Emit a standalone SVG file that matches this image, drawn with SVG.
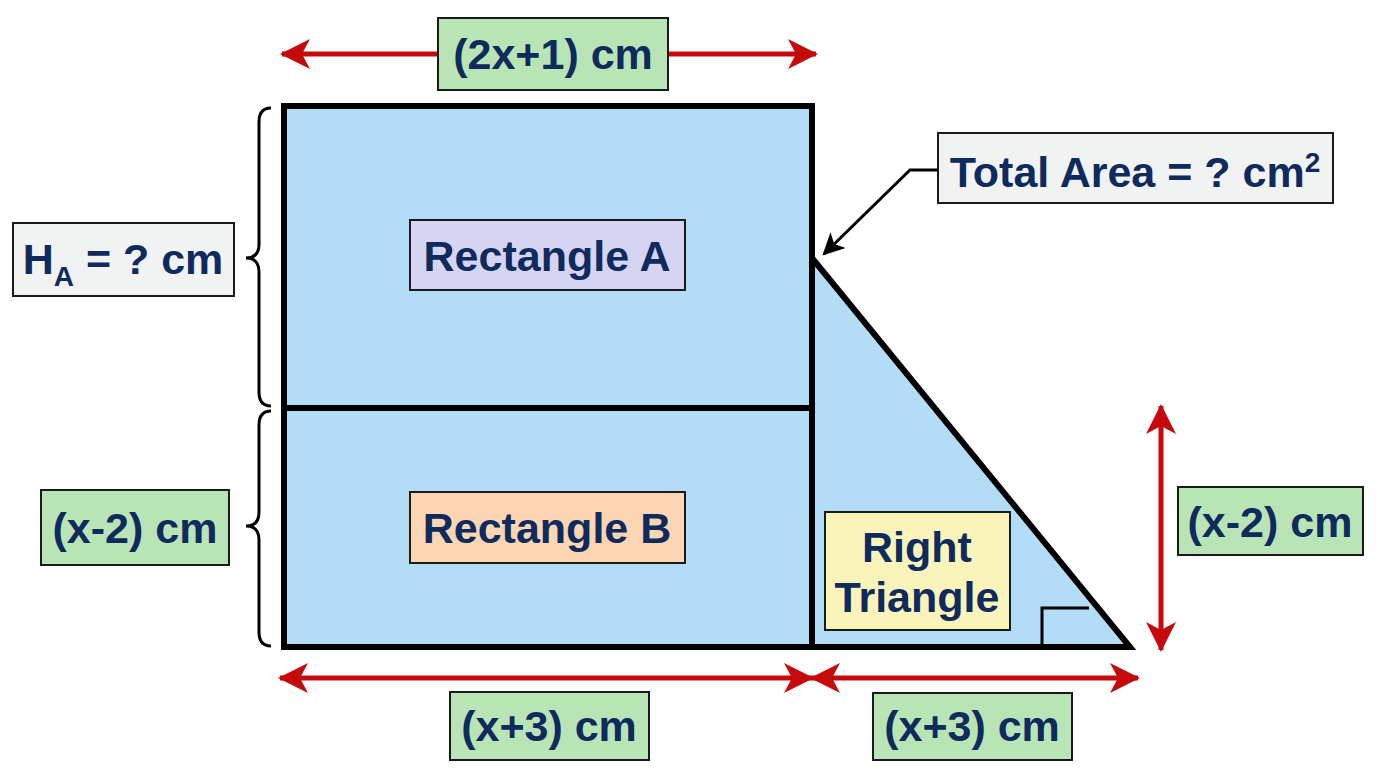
<svg xmlns="http://www.w3.org/2000/svg" width="1376" height="768" viewBox="0 0 1376 768">
<defs>
<marker id="red" viewBox="0 0 30 30" refX="28" refY="15" markerWidth="30" markerHeight="30" markerUnits="userSpaceOnUse" orient="auto-start-reverse">
<path d="M0,0 L30,15 L0,30 L8,15 Z" fill="#c40a0a"/>
</marker>
<marker id="blk" viewBox="0 0 20 20" refX="18" refY="10" markerWidth="22" markerHeight="22" markerUnits="userSpaceOnUse" orient="auto">
<path d="M0,0 L20,10 L0,20 L5,10 Z" fill="#000"/>
</marker>
</defs>
<style>
.lbl{font-family:"Liberation Sans",Arial,sans-serif;font-weight:bold;fill:#0f2a5c;text-anchor:middle;font-size:43px}
.box{stroke:#1a1a1a;stroke-width:2}
.green{fill:#b9e4b6}
.gray{fill:#f1f2f2}
.dim{stroke:#c40a0a;stroke-width:5;fill:none}
.shape{fill:#b3dcf7;stroke:#000;stroke-width:6;stroke-linejoin:miter}
.brace{fill:none;stroke:#000;stroke-width:3}
</style>
<rect width="1376" height="768" fill="#ffffff"/>

<g id="shapes">
<rect id="rectA" class="shape" x="284" y="106" width="528" height="302"/>
<rect id="rectB" class="shape" x="284" y="408" width="528" height="239"/>
<polygon id="triangle" class="shape" points="812,258 1130,647 812,647"/>
<path id="right-angle" d="M1042,647 L1042,608 L1089,608" fill="none" stroke="#000" stroke-width="3"/>
</g>

<g id="connectors">
<line class="dim" x1="282" y1="54" x2="816" y2="54" marker-start="url(#red)" marker-end="url(#red)"/>
<line class="dim" x1="280" y1="678" x2="812" y2="678" marker-start="url(#red)" marker-end="url(#red)"/>
<line class="dim" x1="812" y1="678" x2="1138" y2="678" marker-start="url(#red)" marker-end="url(#red)"/>
<line class="dim" x1="1161" y1="406" x2="1161" y2="650" marker-start="url(#red)" marker-end="url(#red)"/>
<path d="M938,170 L910,170 L824,254" fill="none" stroke="#000" stroke-width="3" marker-end="url(#blk)"/>
<path class="brace" d="M271,108 Q259,108 259,122 L259,244 Q259,258 246,258 Q259,258 259,272 L259,392 Q259,406 271,406"/>
<path class="brace" d="M271,411 Q259,411 259,425 L259,512 Q259,526 246,526 Q259,526 259,540 L259,632 Q259,646 271,646"/>
</g>

<g id="label-top">
<rect class="box green" x="438" y="18" width="230" height="72"/>
<text class="lbl" x="553" y="69">(2x+1) cm</text>
</g>

<g id="label-ha">
<rect class="box gray" x="13" y="223" width="221" height="73"/>
<text class="lbl" x="123" y="274">H<tspan font-size="28" dy="12">A</tspan><tspan dy="-12"> = ? cm</tspan></text>
</g>

<g id="label-left-b">
<rect class="box green" x="41" y="490" width="188" height="75"/>
<text class="lbl" x="135" y="543">(x-2) cm</text>
</g>

<g id="label-rect-a">
<rect class="box" fill="#d6d4f3" x="410" y="220" width="275" height="70"/>
<text class="lbl" x="547" y="271">Rectangle A</text>
</g>

<g id="label-rect-b">
<rect class="box" fill="#fcd6b2" x="410" y="492" width="275" height="71"/>
<text class="lbl" x="547" y="543">Rectangle B</text>
</g>

<g id="label-total">
<rect class="box gray" x="938" y="133" width="395" height="70"/>
<text class="lbl" x="1135" y="187">Total Area = ? cm<tspan font-size="28" dy="-15">2</tspan></text>
</g>

<g id="label-triangle">
<rect class="box" fill="#fbf4ba" x="825" y="512" width="185" height="118"/>
<text class="lbl" x="917" y="562">Right</text>
<text class="lbl" x="917" y="612">Triangle</text>
</g>

<g id="label-right">
<rect class="box green" x="1178" y="487" width="185" height="68"/>
<text class="lbl" x="1270" y="537">(x-2) cm</text>
</g>

<g id="label-bottom-left">
<rect class="box green" x="450" y="692" width="199" height="68"/>
<text class="lbl" x="549" y="741">(x+3) cm</text>
</g>

<g id="label-bottom-right">
<rect class="box green" x="873" y="693" width="199" height="67"/>
<text class="lbl" x="972" y="741">(x+3) cm</text>
</g>
</svg>
